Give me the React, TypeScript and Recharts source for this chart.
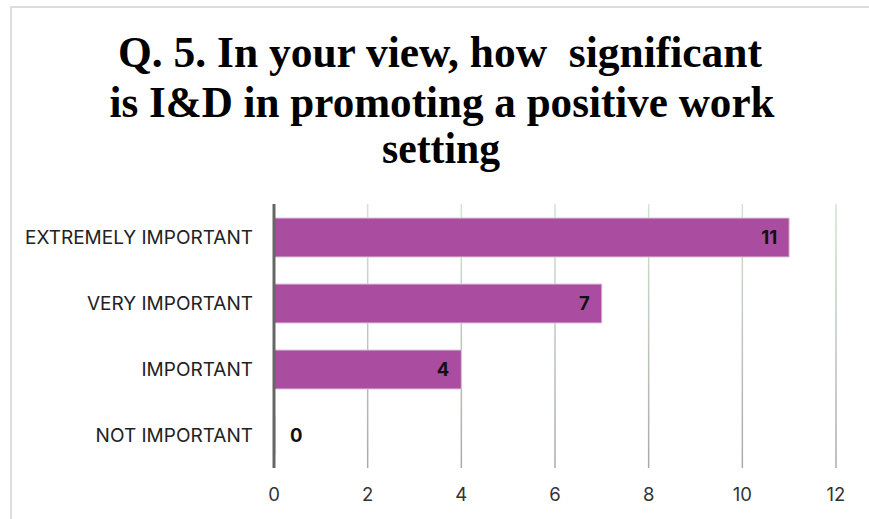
import React from "react";
import { BarChart, Bar, XAxis, YAxis, CartesianGrid, LabelList } from "recharts";

const categories = ["EXTREMELY IMPORTANT", "VERY IMPORTANT", "IMPORTANT", "NOT IMPORTANT"];
const responses = [11, 7, 4, 0];
const xTicks = [0, 2, 4, 6, 8, 10, 12];
const titleLines = [
  "Q. 5. In your view, how  significant",
  "is I&D in promoting a positive work",
  "setting",
];

const data = categories.map((c, i) => ({ name: c, value: responses[i] }));

const FONT = "Inter, 'Noto Sans', sans-serif";

const renderLabel = (props: any) => {
  const { x, y, width, height, value } = props;
  const cy = Number(y) + Number(height) / 2;
  const w = Number(width) || 0;
  if (w <= 1.5) {
    return (
      <text x={Number(x) + 16} y={cy} dy="0.35em" textAnchor="start" fontSize={18.5} fontWeight={700} fill="#111" fontFamily={FONT}>
        {value}
      </text>
    );
  }
  return (
    <text x={Number(x) + w - 12} y={cy} dy="0.35em" textAnchor="end" fontSize={18.5} fontWeight={700} fill="#111" fontFamily={FONT}>
      {value}
    </text>
  );
};

export default function App() {
  const W = 869;
  const H = 519;
  return (
    <div style={{ position: "absolute", left: 0, top: 0, width: W, height: H, background: "#fff" }}>
      <BarChart
        width={W}
        height={H}
        data={data}
        layout="vertical"
        margin={{ top: 204, right: 33, bottom: 0, left: 0 }}
      >
        <defs>
          <linearGradient id="gridGrad" gradientUnits="userSpaceOnUse" x1="0" y1="204" x2="0" y2="468">
            <stop offset="0%" stopColor="#cfe6cf" />
            <stop offset="100%" stopColor="#aaaaaa" />
          </linearGradient>
        </defs>
        <CartesianGrid horizontal={false} stroke="url(#gridGrad)" strokeWidth={1.5} />
        <XAxis
          type="number"
          domain={[0, 12]}
          ticks={xTicks}
          axisLine={false}
          tickLine={false}
          tickSize={0}
          tickMargin={20}
          height={51}
          tick={{ fontSize: 18.5, fill: "#333", fontFamily: FONT }}
        />
        <YAxis
          type="category"
          dataKey="name"
          width={274}
          axisLine={{ stroke: "#666", strokeWidth: 3 }}
          tickLine={false}
          tickSize={0}
          tickMargin={21}
          tick={{ fontSize: 19, fill: "#222", fontFamily: FONT }}
        />
        <Bar dataKey="value" fill="#aa4da0" stroke="#dcc7da" strokeWidth={1} barSize={39} minPointSize={1} isAnimationActive={false}>
          <LabelList dataKey="value" content={renderLabel} />
        </Bar>
      </BarChart>
      <svg width={W} height={H} style={{ position: "absolute", left: 0, top: 0, pointerEvents: "none" }}>
        <path d={`M11 ${H} L11 7 L${W} 7`} fill="none" stroke="#dddddd" strokeWidth={2} />
        <g fontFamily="'Liberation Serif', 'Times New Roman', serif" fontWeight={700} fontSize={44} fill="#000" textAnchor="middle">
          <text x={440} y={67} textLength={644} lengthAdjust="spacingAndGlyphs" xmlSpace="preserve" style={{ whiteSpace: "pre" }}>{titleLines[0]}</text>
          <text x={442} y={117} textLength={665} lengthAdjust="spacingAndGlyphs" xmlSpace="preserve">{titleLines[1]}</text>
          <text x={441} y={163} textLength={118} lengthAdjust="spacingAndGlyphs" xmlSpace="preserve">{titleLines[2]}</text>
        </g>
      </svg>
    </div>
  );
}
